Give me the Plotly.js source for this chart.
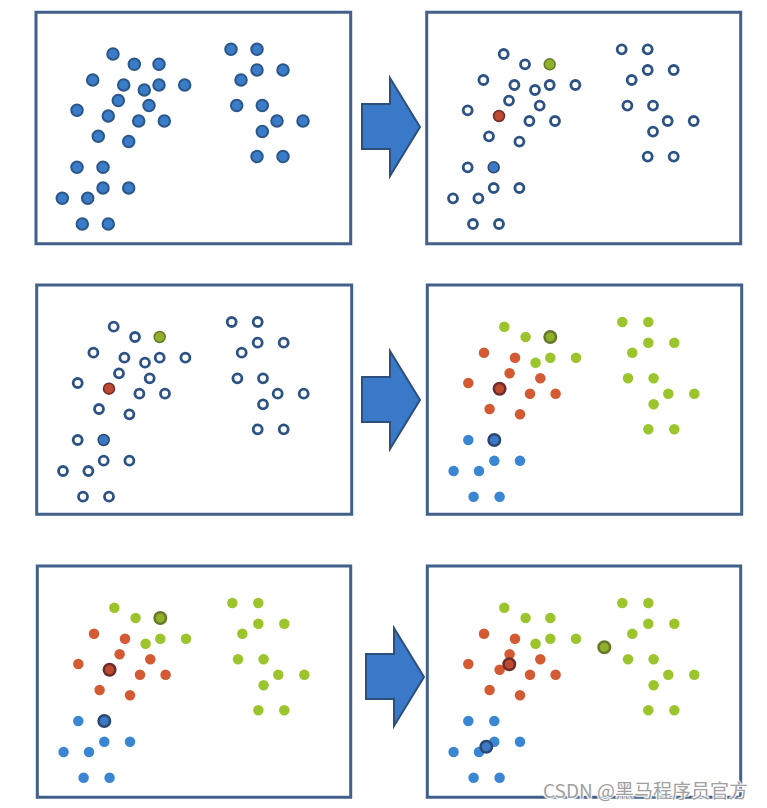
<!DOCTYPE html>
<html><head><meta charset="utf-8">
<script src="https://cdn.plot.ly/plotly-3.0.1.min.js"></script>
<style>html,body{margin:0;padding:0;background:#fff}#chart{width:767px;height:808px}</style>
</head><body><div id="chart"></div>
<script>
// ---- data (panel-relative units) ----
const pointX = [77, 98.3, 123, 56.7, 87.7, 108.3, 123, 148.7, 82.3, 113, 41, 72.3, 102.7, 128.3, 62.3, 92.7,
                41, 67, 67, 92.7, 26.3, 51.7, 46.3, 72.3,
                195, 221, 221, 247, 205, 200.7, 226.3, 241, 267, 226.3, 221, 247];
const pointY = [41.7, 52, 52, 67.7, 72.7, 77.7, 72.7, 72.7, 88.3, 93.3, 98, 103.7, 108.7, 108.7, 124, 129.3,
                155, 155, 175.7, 175.7, 186, 186, 211.7, 211.7,
                37, 37, 57.7, 57.7, 67.7, 93.3, 93.3, 108.7, 108.7, 119.3, 144.3, 144.3];
// cluster of each point: 0 = blue, 1 = red, 2 = green
const clusterOf = [2,2,2,1,1,2,2,2,1,1,1,1,1,1,1,1, 0,0,0,0,0,0,0,0, 2,2,2,2,2,2,2,2,2,2,2,2];
// initial centroids (point indices) for blue, red, green
const initCentroidIdx = [17, 11, 2];
// recomputed centroids for blue, red, green
const finalCentroidX = [59, 82, 177];
const finalCentroidY = [180.7, 98.3, 81.3];
const watermark = "CSDN @黑马程序员官方";

// ---- styles ----
const W = 767, H = 808;
const clusterFill = ["#3a86d2", "#d35a33", "#9cc52d"];
const centroidFill = ["#3a7ac4", "#bd4a30", "#8fb02a"];
const centroidRing = ["#2b4770", "#6e2b2b", "#66792a"];
const borderColor = "#41608a";

const boxes = [
  [36, 12.3, 350.7, 243.7],
  [426.7, 12.3, 740.7, 243.7],
  [36.7, 285, 351.7, 514.3],
  [427.3, 285, 741.7, 514.3],
  [37.3, 566, 350.7, 797.3],
  [427.3, 566, 740.7, 797.3]
];

function px(x) { return x / W; }
function py(y) { return 1 - y / H; }

const layout = {
  width: W, height: H, margin: {l:0, r:0, t:0, b:0},
  paper_bgcolor: "#fff", plot_bgcolor: "rgba(0,0,0,0)",
  showlegend: false, shapes: [], annotations: []
};
boxes.forEach((b, i) => {
  const s = i === 0 ? "" : String(i + 1);
  const base = {showline: false, showgrid: false, zeroline: false, showticklabels: false, ticks: "", fixedrange: true};
  layout["xaxis" + s] = Object.assign({}, base, {domain: [px(b[0]), px(b[2])], range: [0, b[2]-b[0]], anchor: "y" + s});
  layout["yaxis" + s] = Object.assign({}, base, {domain: [py(b[3]), py(b[1])], range: [b[3]-b[1], 0], anchor: "x" + s});
  layout.shapes.push({type: "rect", xref: "paper", yref: "paper",
    x0: px(b[0]), x1: px(b[2]), y0: py(b[3]), y1: py(b[1]),
    line: {color: borderColor, width: 3}, fillcolor: "rgba(0,0,0,0)", layer: "below"});
});

const traces = [];
function add(panel, xs, ys, marker) {
  const s = panel === 0 ? "" : String(panel + 1);
  traces.push({type: "scatter", mode: "markers", x: xs, y: ys,
    xaxis: "x" + s, yaxis: "y" + s, hoverinfo: "skip", cliponaxis: false, marker: marker});
}
const allIdx = pointX.map((_, i) => i);
const nonCent = allIdx.filter(i => !initCentroidIdx.includes(i));

// panel 1: all points, unlabelled
add(0, pointX, pointY, {size: 11.5, color: "#3b7cc9", line: {color: "#2b5688", width: 2}});

// panels 2 & 3: hollow points + initial centroids
[1, 2].forEach(p => {
  add(p, nonCent.map(i => pointX[i]), nonCent.map(i => pointY[i]),
      {size: 9, color: "#fff", line: {color: "#2d5284", width: 2.8}});
  add(p, initCentroidIdx.map(i => pointX[i]), initCentroidIdx.map(i => pointY[i]),
      {size: 11, color: centroidFill, line: {color: centroidRing, width: 1.5}});
});

// panels 4 & 5: coloured points, initial centroids highlighted
[3, 4].forEach(p => {
  add(p, nonCent.map(i => pointX[i]), nonCent.map(i => pointY[i]),
      {size: 10.5, color: nonCent.map(i => clusterFill[clusterOf[i]]), line: {width: 0}});
  add(p, initCentroidIdx.map(i => pointX[i]), initCentroidIdx.map(i => pointY[i]),
      {size: 11.5, color: centroidFill, line: {color: centroidRing, width: 2.5}});
});

// panel 6: all coloured points + new centroids
add(5, pointX, pointY, {size: 10.5, color: clusterOf.map(c => clusterFill[c]), line: {width: 0}});
add(5, finalCentroidX, finalCentroidY,
    {size: 11.5, color: centroidFill, line: {color: centroidRing, width: 2.5}});

// arrows between panels
[[362, 127], [362, 400], [366, 677]].forEach(a => {
  const x0 = a[0], yc = a[1];
  const pts = [[x0, yc-23], [x0+28, yc-23], [x0+28, yc-49], [x0+58, yc], [x0+28, yc+49], [x0+28, yc+22], [x0, yc+22]];
  const path = "M " + pts.map(p => px(p[0]) + "," + py(p[1])).join(" L ") + " Z";
  layout.shapes.push({type: "path", xref: "paper", yref: "paper", path: path,
    fillcolor: "#3a78c8", line: {color: "#2c4f7c", width: 2}});
});

layout.annotations.push({
  xref: "paper", yref: "paper", x: px(645), y: py(789), xanchor: "center", yanchor: "middle",
  text: watermark, showarrow: false,
  font: {family: "Noto Sans CJK SC, Noto Sans, sans-serif", size: 19, color: "#a0a0a0",
         shadow: "1px 1px 1px #fff, -1px -1px 1px #fff, 1px -1px 1px #fff, -1px 1px 1px #fff"}
});

Plotly.newPlot("chart", traces, layout, {staticPlot: true, displayModeBar: false});
</script>
</body></html>
